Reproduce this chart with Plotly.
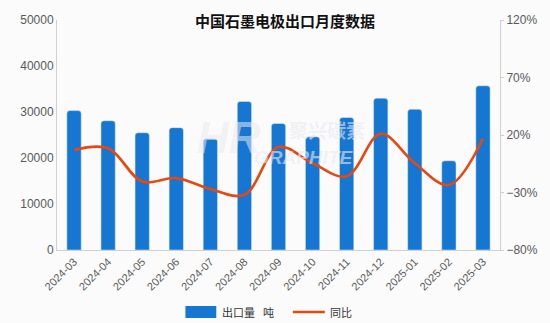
import plotly.graph_objects as go

months = ["2024-03", "2024-04", "2024-05", "2024-06", "2024-07", "2024-08", "2024-09",
          "2024-10", "2024-11", "2024-12", "2025-01", "2025-02", "2025-03"]
export_tons = [30300, 28100, 25500, 26600, 24200, 32300, 27500,
               24600, 28800, 33000, 30600, 19400, 35700]
yoy_pct = [7, 8.5, -20.5, -17.5, -27, -32, 9.5,
           -4.5, -16, 21, -4.5, -23.5, 17]

bar_color = "#1677D2"
line_color = "#E8470F"
grey = "#595959"
axis_grey = "#D0D0D0"


def px(x):
    return (x - 57) / 445


def py(y):
    return (250 - y) / 230


fig = go.Figure()
fig.add_trace(go.Bar(x=months, y=export_tons, name="出口量 吨", marker_color=bar_color,
                     width=0.42, yaxis="y"))
fig.add_trace(go.Scatter(x=months, y=yoy_pct, name="同比", mode="lines",
                         line=dict(color=line_color, width=2.6, shape="spline", smoothing=1.0),
                         yaxis="y2"))

fig.update_layout(
    width=550, height=323,
    margin=dict(l=57, r=48, t=20, b=73),
    paper_bgcolor="#FBFBFC", plot_bgcolor="#FBFBFC",
    showlegend=False,
    barcornerradius=3,
    font=dict(family="Liberation Sans, Arial, sans-serif", color=grey, size=11),
    title=dict(text="<b>中国石墨电极出口月度数据</b>", x=285/550, xanchor="center",
               y=1 - 22/323, yanchor="middle",
               font=dict(family="Noto Sans CJK SC", size=15, color="#111111")),
    xaxis=dict(type="category", tickangle=-45, showline=True, linecolor=axis_grey, linewidth=1,
               ticks="", tickfont=dict(size=11, color=grey), showgrid=False),
    yaxis=dict(range=[0, 50000], tick0=0, dtick=10000, tickformat="d", showline=True,
               linecolor=axis_grey, showgrid=False, zeroline=False, ticks="",
               tickfont=dict(size=12, color=grey)),
    yaxis2=dict(range=[-80, 120], tick0=-80, dtick=50, overlaying="y", side="right", ticksuffix="%",
                showline=True, linecolor=axis_grey, showgrid=False, zeroline=False,
                ticks="outside", ticklen=3, tickcolor=axis_grey,
                tickfont=dict(size=12, color=grey)),
)

# watermark
fig.add_annotation(text="<b><i>HR</i></b>", x=px(230), y=py(137), xref="paper", yref="paper",
                   showarrow=False, font=dict(family="Liberation Sans", size=44, color="rgba(235,235,240,0.55)"))
fig.add_annotation(text="<b>聚兴碳素</b>", x=px(328), y=py(129), xref="paper", yref="paper",
                   showarrow=False, font=dict(family="Noto Sans CJK SC", size=19, color="rgba(235,235,240,0.6)"))
fig.add_annotation(text="<b><i>GRAPHITE</i></b>", x=px(305), y=py(157), xref="paper", yref="paper",
                   showarrow=False, font=dict(family="Liberation Sans", size=19, color="rgba(235,235,240,0.6)"))

# custom legend
fig.add_shape(type="rect", xref="paper", yref="paper",
              x0=px(186), x1=px(217), y0=py(318), y1=py(306),
              fillcolor=bar_color, line_width=0)
fig.add_annotation(text="出口量", xref="paper", yref="paper", x=px(221), y=py(312),
                   xanchor="left", yanchor="middle", showarrow=False,
                   font=dict(family="Noto Sans CJK SC", size=11, color="#333333"))
fig.add_annotation(text="吨", xref="paper", yref="paper", x=px(262), y=py(312),
                   xanchor="left", yanchor="middle", showarrow=False,
                   font=dict(family="Noto Sans CJK SC", size=11, color="#333333"))
fig.add_shape(type="line", xref="paper", yref="paper",
              x0=px(294), x1=px(326), y0=py(312), y1=py(312),
              line=dict(color=line_color, width=2.6))
fig.add_annotation(text="同比", xref="paper", yref="paper", x=px(329), y=py(312),
                   xanchor="left", yanchor="middle", showarrow=False,
                   font=dict(family="Noto Sans CJK SC", size=11, color="#333333"))

fig.write_html("out.html")
